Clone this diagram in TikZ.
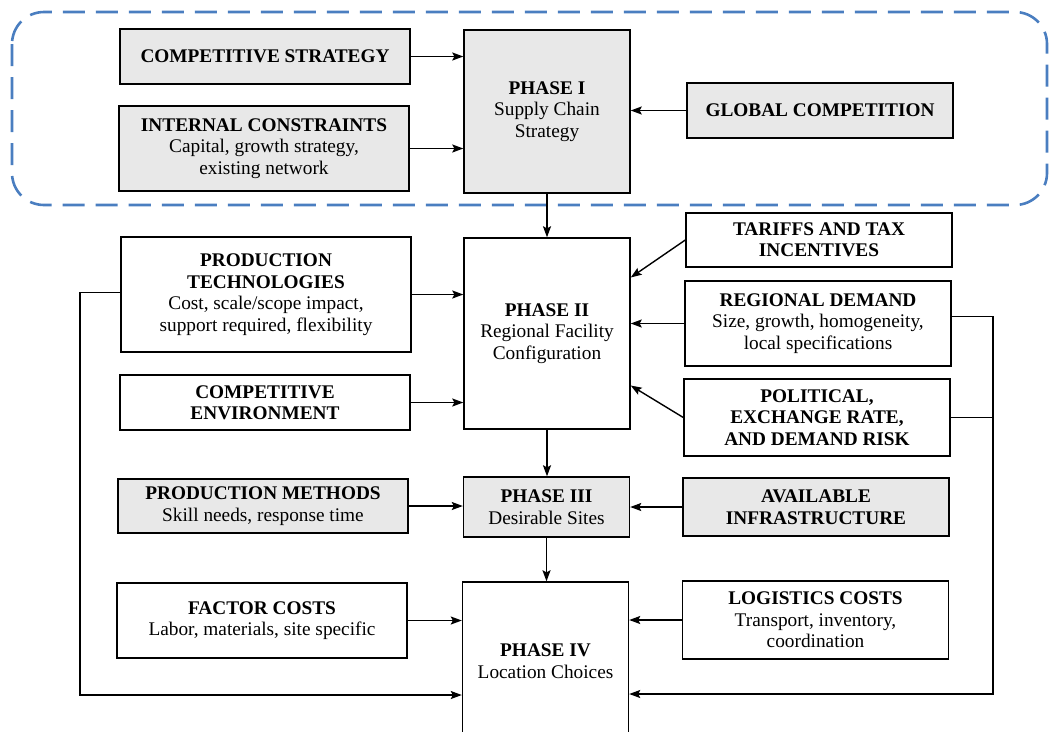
\documentclass[tikz,border=0pt]{standalone}
\usepackage{fontspec}
\setmainfont{Liberation Serif}
\usetikzlibrary{arrows.meta}
\definecolor{hiblue}{RGB}{74,126,192}

\begin{document}
\begin{tikzpicture}[x=1pt, y=-1pt,
  box/.style={draw, line width=1.4pt, align=center, inner sep=2pt,
    font=\fontsize{19.3}{21.5}\selectfont, minimum height=#1},
  box/.default=55pt,
  lbox/.style={box=#1, minimum width=290pt},
  rbox/.style={box=#1, minimum width=266pt},
  pbox/.style={box=#1, minimum width=166pt},
  dotted fill/.style={fill=black!9},
  arr/.style={line width=1.4pt, -{Stealth[length=11pt, width=8pt, inset=2pt]}},
  feed/.style={line width=1.4pt}]
\useasboundingbox (0,0) rectangle (1051,731);
\clip (0,0) rectangle (1051,731);
% strategic frame round phase I
\draw[hiblue, line width=2.6pt, dash pattern=on 22pt off 11pt, rounded corners=32pt]
  (12,12) rectangle (1047,205);
% phase I
\node[lbox, dotted fill] (cstrat) at (265,56.5) {\textbf{COMPETITIVE STRATEGY}};
\node[lbox=85pt, dotted fill] (intc) at (264,148.5) {\textbf{INTERNAL CONSTRAINTS}\\Capital, growth strategy,\\existing network};
\node[pbox=163pt, dotted fill] (ph1) at (547,111.5) {\textbf{PHASE I}\\Supply Chain\\Strategy};
\node[rbox, dotted fill] (glob) at (820,110.5) {\textbf{GLOBAL COMPETITION}};
% phase II
\node[lbox=115pt] (ptech) at (266,294.5) {\textbf{PRODUCTION}\\\textbf{TECHNOLOGIES}\\Cost, scale/scope impact,\\support required, flexibility};
\node[lbox] (cenv) at (265,402.5) {\textbf{COMPETITIVE}\\\textbf{ENVIRONMENT}};
\node[pbox=191pt] (ph2) at (547,333.5) {\textbf{PHASE II}\\Regional Facility\\Configuration};
\node[rbox=54pt] (tariff) at (819,240) {\textbf{TARIFFS AND TAX}\\\textbf{INCENTIVES}};
\node[rbox=85pt] (regd) at (818,323.5) {\textbf{REGIONAL DEMAND}\\Size, growth, homogeneity,\\local specifications};
\node[rbox=77pt] (polit) at (817,417.5) {\textbf{POLITICAL,}\\\textbf{EXCHANGE RATE,}\\\textbf{AND DEMAND RISK}};
% phase III
\node[lbox=54pt, dotted fill] (pmeth) at (263,506) {\textbf{PRODUCTION METHODS}\\Skill needs, response time};
\node[pbox=60pt, dotted fill] (ph3) at (546.5,507) {\textbf{PHASE III}\\Desirable Sites};
\node[rbox=58pt, dotted fill] (infra) at (816,507) {\textbf{AVAILABLE}\\\textbf{INFRASTRUCTURE}};
% phase IV (runs off the bottom)
\node[lbox=75pt] (fcost) at (262,620.5) {\textbf{FACTOR COSTS}\\Labor, materials, site specific};
\node[pbox=158pt] (ph4) at (545.5,661) {\textbf{PHASE IV}\\Location Choices};
\node[rbox=78pt] (logc) at (815.5,620) {\textbf{LOGISTICS COSTS}\\Transport, inventory,\\coordination};
% inputs
\foreach \a in {cstrat, intc} {\draw[arr] (\a.east) -- (\a.east -| ph1.west);}
\draw[arr] (glob.west) -- (glob.west -| ph1.east);
\foreach \a in {ptech, cenv} {\draw[arr] (\a.east) -- (\a.east -| ph2.west);}
\draw[arr] (tariff.west) -- ([yshift=56pt]ph2.east);
\draw[arr] (regd.west) -- (regd.west -| ph2.east);
\draw[arr] (polit.west) -- ([yshift=-52pt]ph2.east);
\draw[arr] (pmeth.east) -- (pmeth.east -| ph3.west);
\draw[arr] (infra.west) -- (infra.west -| ph3.east);
\draw[arr] (fcost.east) -- (fcost.east -| ph4.west);
\draw[arr] (logc.west) -- (logc.west -| ph4.east);
% phase to phase
\draw[arr] (ph1.south) -- (ph1.south |- ph2.north);
\draw[arr] (ph2.south) -- (ph2.south |- ph3.north);
\draw[arr] (ph3.south) -- (ph3.south |- ph4.north);
% feedback loops into phase IV
\coordinate (fbl) at (80,695);
\coordinate (fbr) at (993,694);
\draw[arr] ([yshift=2pt]ptech.west) -| (fbl) -- (fbl -| ph4.west);
\draw[arr] ([yshift=7pt]regd.east) -| (fbr) -- (fbr -| ph4.east);
\draw[feed] (polit.east) -- (polit.east -| fbr);
\end{tikzpicture}
\end{document}
